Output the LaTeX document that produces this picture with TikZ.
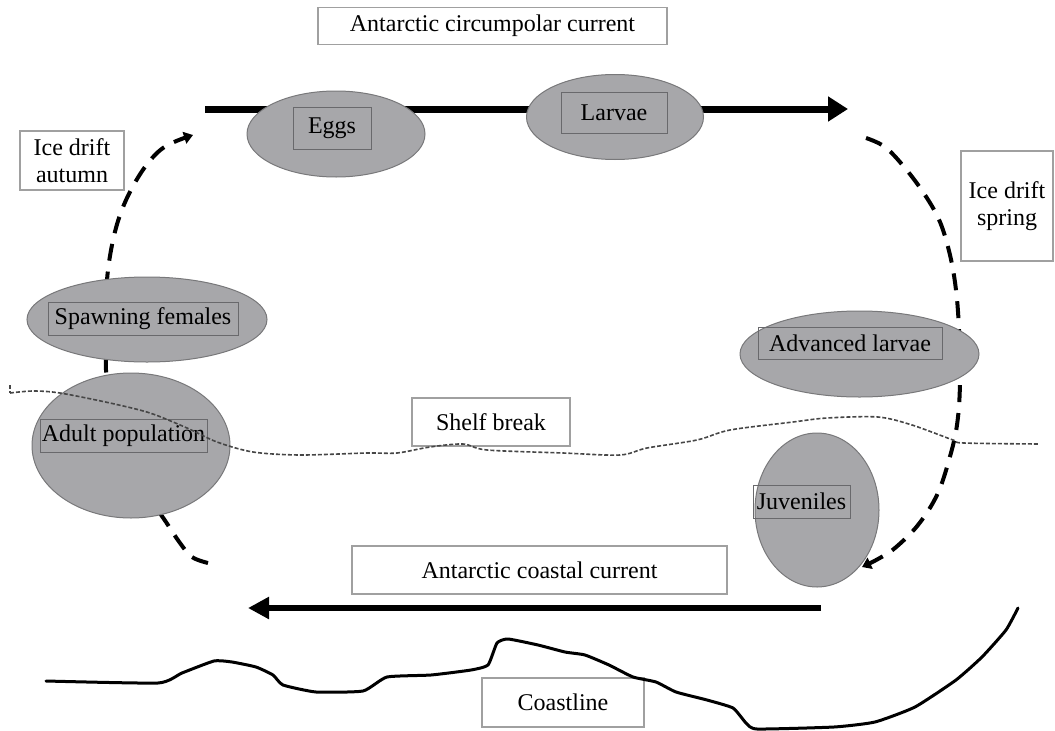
\documentclass[tikz,border=0pt]{standalone}
\usepackage{fontspec}
\setmainfont{Liberation Serif}
\usetikzlibrary{shapes.geometric,arrows.meta,backgrounds}
\definecolor{ellfill}{RGB}{167,167,170}
\definecolor{elldraw}{RGB}{120,120,122}
\definecolor{inbox}{RGB}{105,105,108}
\definecolor{outbox}{RGB}{160,160,160}
\definecolor{shelfcol}{RGB}{70,70,70}
\begin{document}
\begin{tikzpicture}[x=1pt,y=-1pt,
  font=\fontsize{24}{27.5}\selectfont,
  ell/.style={ellipse, draw=elldraw, fill=ellfill, line width=1pt, inner sep=0pt},
  inlabel/.style={rectangle, draw=inbox, line width=1pt, inner sep=0pt, align=center},
  lbox/.style={rectangle, draw=outbox, fill=white, line width=1.2pt, inner sep=0pt, align=center},
  current/.style={line width=7pt, -{Triangle[length=20pt,width=24pt]}},
  coastcur/.style={line width=6pt, -{Triangle[length=21pt,width=21pt]}},
  drift/.style={line width=4pt, dash pattern=on 17pt off 11pt, -{Triangle[length=9pt,width=12pt]}},
  shelfline/.style={line width=1.6pt, draw=shelfcol, dash pattern=on 4pt off 2pt},
  coast/.style={line width=3pt, line join=round, line cap=round}]
\useasboundingbox (0,0) rectangle (1055,731);

% labels
\node[lbox, minimum width=349pt, minimum height=37pt] (acc) at (492.5,26) {Antarctic circumpolar current};
\node[lbox, minimum width=104pt, minimum height=59pt] (autumn) at (72,160.5) {Ice drift\\autumn};
\node[lbox, minimum width=92pt, minimum height=110pt] (spring) at (1007,206) {Ice drift\\spring};
\node[lbox, minimum width=158pt, minimum height=48pt] (shelf) at (491,422) {Shelf break};
\node[lbox, minimum width=375pt, minimum height=48pt] (accoast) at (539.5,570) {Antarctic coastal current};
\node[lbox, minimum width=162pt, minimum height=49pt] (coastl) at (563,702.5) {Coastline};

% life stages
\node[ell, minimum width=178pt, minimum height=86pt] (eggs) at (336,134) {};
\node[inlabel, minimum width=78pt, minimum height=42pt] (eggsT) at (332,128) {Eggs};
\node[ell, minimum width=177pt, minimum height=85pt] (larvae) at (615,117) {};
\node[inlabel, minimum width=106pt, minimum height=41pt] (larvaeT) at (614,112.5) {Larvae};
\node[ell, minimum width=240pt, minimum height=85pt] (spawn) at (147,319.5) {};
\node[inlabel, minimum width=190pt, minimum height=33pt] (spawnT) at (143,318.5) {Spawning females};
\node[ell, minimum width=198pt, minimum height=145pt] (adult) at (131,445.5) {};
\node[inlabel, minimum width=167pt, minimum height=33pt] (adultT) at (123.5,435.5) {Adult population};
\node[ell, minimum width=239pt, minimum height=86pt] (adv) at (859.5,354) {};
\node[inlabel, minimum width=184pt, minimum height=32pt] (advT) at (850,343) {Advanced larvae};
\node[ell, minimum width=124pt, minimum height=154pt] (juv) at (817,510) {};
\node[inlabel, minimum width=97pt, minimum height=33pt] (juvT) at (801.5,501.5) {Juveniles};

% connector end points
\coordinate (acc0) at (205,109);
\coordinate (acc1) at (848,109);
\coordinate (coast0) at (821,608);
\coordinate (coast1) at (248,608);
\coordinate (la) at (208,563);
\coordinate (lb) at (193,135);
\coordinate (ra) at (866,138);
\coordinate (rb) at (862,567);

\begin{pgfonlayer}{background}
\draw[current] (acc0) -- (acc1);
\draw[coastcur] (coast0) -- (coast1);
\draw[drift] plot[smooth, tension=0.6] coordinates {(la) (192,557) (180,543) (166,522) (145,490) (122,440) (108,392) (106,370) (106,320) (107,280) (112,245) (120,215) (132,188) (148,163) (166,146) (lb)};
\draw[drift] plot[smooth, tension=0.6] coordinates {(ra) (885,147) (905,168) (925,195) (940,222) (950,255) (956,290) (959,330) (960,383) (957,425) (949,460) (937,495) (918,525) (895,548) (878,559) (rb)};
\end{pgfonlayer}

% shelf break
\draw[shelfline] (10,385) -- (10,393);
\draw[shelfline] plot[smooth, tension=0.5] coordinates {(10,393) (33,391) (60,393) (110,403) (150,413) (187,428) (217,442) (253,452) (300,455) (367,453) (397,453) (430,447) (463,444) (487,450) (563,453) (620,455) (647,448) (697,440) (730,430) (793,422) (827,418) (878,417) (912,425) (953,440) (964,443) (1039,444)};

% coastline
\draw[coast] plot[smooth, tension=0.3] coordinates {(46,681) (158,683) (182,673) (214,661) (232,662) (256,667) (273,675) (283,685) (316,692) (363,691) (387,677) (431,675) (471,670) (488,665) (497,643) (508,639) (538,645) (565,652) (585,655) (609,665) (633,677) (656,682) (676,692) (707,700) (733,708) (746,723) (757,729) (834,727) (875,722) (915,707) (956,680) (982,657) (1006,630) (1018,608)};
\end{tikzpicture}
\end{document}
